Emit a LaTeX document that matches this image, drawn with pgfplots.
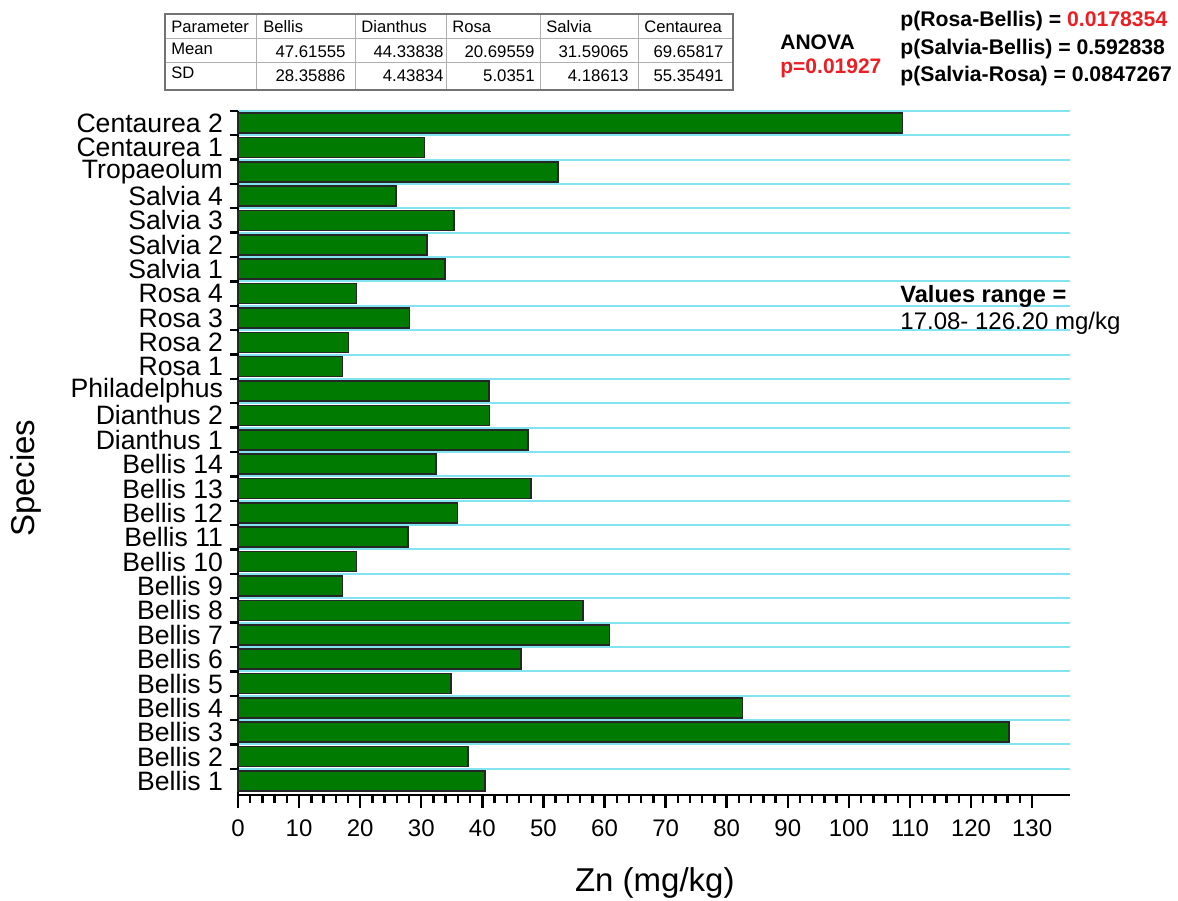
\documentclass[border=0pt]{standalone}
\usepackage{fontspec}
\setmainfont{Liberation Sans}
\usepackage{pgfplots}
\pgfplotsset{compat=1.18}
\definecolor{barg}{RGB}{0,122,0}
\definecolor{gridc}{RGB}{130,228,240}
\definecolor{pred}{RGB}{235,30,35}
\definecolor{tabline}{RGB}{175,175,175}
\begin{document}
\begin{tikzpicture}
\path[use as bounding box] (-119pt,-52.5pt) rectangle (470pt,397.5pt);
\begin{axis}[
  at={(0pt,0pt)}, anchor=south west,
  scale only axis, width=416pt, height=342.1pt,
  xmin=0, xmax=136.2, ymin=-0.574, ymax=27.5,
  axis x line*=bottom, axis y line*=left,
  axis line style={line width=1.3pt,-},
  xtick={0,10,...,130}, minor x tick num=4,
  tick align=outside,
  major tick length=6.5pt, minor tick length=4pt,
  every tick/.style={black,line width=1.2pt},
  major y tick style={draw=none},
  ytick={0,...,27},
  yticklabels={Bellis 1,Bellis 2,Bellis 3,Bellis 4,Bellis 5,Bellis 6,Bellis 7,Bellis 8,Bellis 9,Bellis 10,Bellis 11,Bellis 12,Bellis 13,Bellis 14,Dianthus 1,Dianthus 2,Philadelphus,Rosa 1,Rosa 2,Rosa 3,Rosa 4,Salvia 1,Salvia 2,Salvia 3,Salvia 4,Tropaeolum,Centaurea 1,Centaurea 2},
  minor ytick={0.5,1.5,...,27.5},
  yminorgrids, minor grid style={gridc,line width=1pt},
  yticklabel style={font=\fontsize{13.3}{15}\selectfont, xshift=2.5pt, inner ysep=0pt},
  xticklabel style={font=\fontsize{12}{14}\selectfont, yshift=-2.5pt},
  /pgf/number format/assume math mode=true,
  xlabel={Zn (mg/kg)}, ylabel={Species},
  xlabel style={font=\fontsize{16.5}{19}\selectfont, at={(axis description cs:0.501,-0.1286)}, anchor=center},
  ylabel style={font=\fontsize{16.5}{19}\selectfont, at={(axis description cs:-0.2548,0.463)}, anchor=center, rotate=0},
  clip=false,
]
\addplot[xbar, bar width=10pt, fill=barg, draw=black!85, line width=0.8pt] coordinates {
(40.4,0) (37.7,1) (126.2,2) (82.6,3) (34.9,4) (46.3,5) (60.8,6) (56.5,7)
(17.08,8) (19.4,9) (27.8,10) (35.9,11) (48.0,12) (32.4,13)
(47.48,14) (41.2,15) (41.1,16)
(17.1,17) (18.1,18) (28.1,19) (19.4,20)
(33.9,21) (30.9,22) (35.4,23) (25.9,24)
(52.4,25) (30.5,26) (108.8,27)
};
\end{axis}
\begin{scope}[x=0.5pt,y=-0.5pt,shift={(-119pt,397.5pt)}]
  % table
  \draw[tabline,line width=0.5pt] (165,39) -- (733,39) (165,63) -- (733,63);
  \foreach \cx in {257,355,446,540,638} \draw[tabline,line width=0.5pt] (\cx,14) -- (\cx,90);
  \draw[black!55,line width=0.6pt] (165,14) rectangle (733,90);
  \begin{scope}[every node/.style={font=\fontsize{8.3}{10}\selectfont, inner sep=0pt}]
  \node[anchor=west] at (171,27) {Parameter};
  \node[anchor=west] at (263,27) {Bellis};
  \node[anchor=west] at (361,27) {Dianthus};
  \node[anchor=west] at (452,27) {Rosa};
  \node[anchor=west] at (546,27) {Salvia};
  \node[anchor=west] at (644,27) {Centaurea};
  \node[anchor=west] at (171,49) {Mean};
  \node[anchor=west] at (171,73) {SD};
  \end{scope}
  \begin{scope}[every node/.style={font=\fontsize{8.4}{10}\selectfont, inner sep=0pt}]
  \node[anchor=east] at (346,52) {47.61555};
  \node[anchor=east] at (444,52) {44.33838};
  \node[anchor=east] at (535,52) {20.69559};
  \node[anchor=east] at (629,52) {31.59065};
  \node[anchor=east] at (724,52) {69.65817};
  \node[anchor=east] at (346,76) {28.35886};
  \node[anchor=east] at (444,76) {4.43834};
  \node[anchor=east] at (535,76) {5.0351};
  \node[anchor=east] at (629,76) {4.18613};
  \node[anchor=east] at (724,76) {55.35491};
  \end{scope}
  % annotations
  \begin{scope}[every node/.style={font=\fontsize{10.5}{12}\selectfont\bfseries, inner sep=0pt, anchor=west}]
  \node at (780,42) {ANOVA};
  \node[text=pred] at (780,68) {p=0.01927};
  \end{scope}
  \begin{scope}[every node/.style={font=\fontsize{10.6}{12}\selectfont\bfseries, inner sep=0pt, anchor=west}]
  \node at (900,21) {p(Rosa-Bellis) = \textcolor{pred}{0.0178354}};
  \node at (900,49) {p(Salvia-Bellis) = 0.592838};
  \node at (900,76) {p(Salvia-Rosa) = 0.0847267};
  \end{scope}
  \node[font=\fontsize{11.8}{14}\selectfont\bfseries, inner sep=0pt, anchor=west] at (900,296) {Values range =};
  \node[font=\fontsize{12}{14}\selectfont, inner sep=0pt, anchor=west] at (900,323) {17.08- 126.20 mg/kg};
\end{scope}
\end{tikzpicture}
\end{document}
